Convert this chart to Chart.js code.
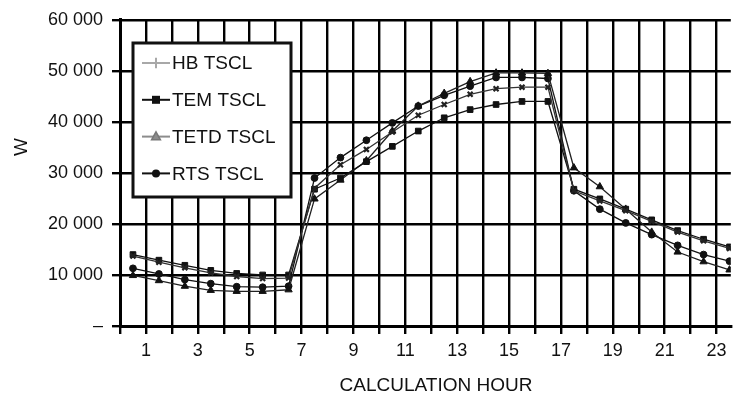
<!DOCTYPE html>
<html>
<head>
<meta charset="utf-8">
<script src="https://cdn.jsdelivr.net/npm/chart.js@4/dist/chart.umd.min.js"></script>
<style>
  html, body { margin: 0; padding: 0; background: #fff; }
  #wrap { width: 737px; height: 396px; }
</style>
</head>
<body>
<div id="wrap"><canvas id="myChart" width="737" height="396"></canvas></div>
<script>
// calculation hours 1..24
var hours = [1, 2, 3, 4, 5, 6, 7, 8, 9, 10, 11, 12, 13, 14, 15, 16, 17, 18, 19, 20, 21, 22, 23, 24];
var seriesNames = ['HB TSCL', 'TEM TSCL', 'TETD TSCL', 'RTS TSCL'];

var hbTscl   = [13700, 12500, 11400, 10400, 9700, 9300, 9400, 27000, 31600, 34600, 38000, 41300, 43400, 45400, 46500, 46800, 46800, 26500, 24500, 22600, 20500, 18400, 16700, 15200];
var temTscl  = [14000, 12900, 11900, 10900, 10300, 10000, 10000, 26800, 29000, 32200, 35200, 38200, 40800, 42400, 43400, 44000, 44000, 26800, 24900, 22900, 20800, 18700, 17000, 15500];
var tetdTscl = [9900, 8900, 7800, 7000, 6800, 6800, 7100, 24900, 28600, 32400, 38200, 43100, 45600, 47900, 49600, 49600, 49500, 31000, 27300, 22900, 18400, 14500, 12600, 11000];
var rtsTscl  = [11300, 10200, 9100, 8300, 7700, 7600, 7800, 29000, 33000, 36400, 39800, 43100, 45200, 47000, 48700, 48700, 48500, 26500, 22900, 20200, 17900, 15800, 14000, 12700];

var yTicks = [0, 10000, 20000, 30000, 40000, 50000, 60000];
var xLabels = [1, 3, 5, 7, 9, 11, 13, 15, 17, 19, 21, 23];

var FONT = '"Liberation Sans", Arial, sans-serif';
Chart.defaults.font.family = FONT;
Chart.defaults.font.size = 18;
Chart.defaults.color = '#111';

// each hour's value is plotted in the middle of its hour interval
function pairs(vals) {
    return vals.map(function (v, i) { return { x: hours[i] - 0.5, y: v }; });
}

function fmt(v) {
    if (v === 0) return '\u2013';
    return String(v).replace(/\B(?=(\d{3})+(?!\d))/g, ' ');
}

var legendStyles = [
    { line: '#a8a8a8', style: 'cross', fill: '#a8a8a8', stroke: '#a8a8a8' },
    { line: '#111', style: 'rect', fill: '#111', stroke: '#111' },
    { line: '#8c8c8c', style: 'triangle', fill: '#8c8c8c', stroke: '#777' },
    { line: '#111', style: 'circle', fill: '#111', stroke: '#111' }
];

function marker(ctx, style, x, y, r, fill, stroke) {
    ctx.save();
    ctx.fillStyle = fill;
    ctx.strokeStyle = stroke;
    ctx.lineWidth = 1.5;
    ctx.beginPath();
    if (style === 'rect') {
        ctx.rect(x - r, y - r, 2 * r, 2 * r);
        ctx.fill();
    } else if (style === 'circle') {
        ctx.arc(x, y, r, 0, Math.PI * 2);
        ctx.fill();
    } else if (style === 'triangle') {
        ctx.moveTo(x, y - r * 1.2);
        ctx.lineTo(x + r * 1.1, y + r * 0.8);
        ctx.lineTo(x - r * 1.1, y + r * 0.8);
        ctx.closePath();
        ctx.fill();
        ctx.stroke();
    } else {
        ctx.lineWidth = 2;
        ctx.moveTo(x - r * 1.3, y);
        ctx.lineTo(x + r * 1.3, y);
        ctx.moveTo(x, y - r * 1.3);
        ctx.lineTo(x, y + r * 1.3);
        ctx.stroke();
    }
    ctx.restore();
}

var boxLegend = {
    id: 'boxLegend',
    afterDatasetsDraw: function (chart) {
        var ctx = chart.ctx;
        ctx.save();
        ctx.fillStyle = '#fff';
        ctx.fillRect(133, 43, 158, 154);
        ctx.strokeStyle = '#111';
        ctx.lineWidth = 3;
        ctx.strokeRect(133, 43, 158, 154);
        ctx.font = '19px ' + FONT;
        ctx.textBaseline = 'middle';
        ctx.textAlign = 'left';
        chart.data.datasets.forEach(function (ds, i) {
            var s = legendStyles[i];
            var y = 63 + i * 36.8;
            ctx.strokeStyle = s.line;
            ctx.lineWidth = 2;
            ctx.beginPath();
            ctx.moveTo(142, y);
            ctx.lineTo(170, y);
            ctx.stroke();
            marker(ctx, s.style, 156, y, 4, s.fill, s.stroke);
            ctx.fillStyle = '#111';
            ctx.fillText(ds.label, 172, y + 1);
        });
        ctx.restore();
    }
};

var axisTitles = {
    id: 'axisTitles',
    afterDraw: function (chart) {
        var ctx = chart.ctx;
        ctx.save();
        ctx.fillStyle = '#111';
        ctx.font = '19px ' + FONT;
        ctx.textAlign = 'center';
        ctx.textBaseline = 'middle';
        ctx.fillText('CALCULATION HOUR', 436, 386);
        ctx.translate(22, 147);
        ctx.rotate(-Math.PI / 2);
        ctx.fillText('W', 0, 0);
        ctx.restore();
    }
};

var whiteBg = {
    id: 'whiteBg',
    beforeDraw: function (chart) {
        var ctx = chart.ctx;
        ctx.save();
        ctx.fillStyle = '#fff';
        ctx.fillRect(0, 0, chart.width, chart.height);
        ctx.restore();
    }
};

var ctx = document.getElementById('myChart');
var myChart = new Chart(ctx, {
    type: 'line',
    data: {
        datasets: [{
            label: seriesNames[0],
            data: pairs(hbTscl),
            borderColor: '#333',
            borderWidth: 1.3,
            pointStyle: 'crossRot',
            pointRadius: 3.5,
            pointBorderWidth: 2.2,
            pointBorderColor: '#222',
            pointBackgroundColor: '#222'
        }, {
            label: seriesNames[1],
            data: pairs(temTscl),
            borderColor: '#111',
            borderWidth: 1.3,
            pointStyle: 'rect',
            pointRadius: 4,
            pointBorderWidth: 1,
            pointBorderColor: '#111',
            pointBackgroundColor: '#111'
        }, {
            label: seriesNames[2],
            data: pairs(tetdTscl),
            borderColor: '#222',
            borderWidth: 1.3,
            pointStyle: 'triangle',
            pointRadius: 4.2,
            pointBorderWidth: 1,
            pointBorderColor: '#111',
            pointBackgroundColor: '#111'
        }, {
            label: seriesNames[3],
            data: pairs(rtsTscl),
            borderColor: '#111',
            borderWidth: 1.3,
            pointStyle: 'circle',
            pointRadius: 3.4,
            pointBorderWidth: 1,
            pointBorderColor: '#111',
            pointBackgroundColor: '#111'
        }]
    },
    options: {
        responsive: false,
        animation: false,
        events: [],
        layout: { padding: { top: 18, left: 0, right: 0, bottom: 0 } },
        plugins: {
            legend: { display: false },
            tooltip: { enabled: false }
        },
        scales: {
            x: {
                type: 'linear',
                min: 0,
                max: 23.55,
                afterFit: function (scale) { scale.height = 70; },
                afterBuildTicks: function (scale) {
                    var t = [];
                    for (var i = 0; i <= 23; i++) t.push({ value: i });
                    scale.ticks = t;
                },
                ticks: {
                    autoSkip: false,
                    maxRotation: 0,
                    padding: 6,
                    callback: function (v) { return xLabels.indexOf(v) >= 0 ? String(v) : ''; }
                },
                grid: { color: '#000', lineWidth: 2.4, tickLength: 8 },
                border: { color: '#000', width: 3 }
            },
            y: {
                min: 0,
                max: 60000,
                afterFit: function (scale) { scale.width = 120; },
                afterBuildTicks: function (scale) {
                    scale.ticks = yTicks.map(function (v) { return { value: v }; });
                },
                ticks: {
                    padding: 9,
                    callback: function (v) { return fmt(v); }
                },
                grid: { color: '#000', lineWidth: 2.4, tickLength: 8 },
                border: { color: '#000', width: 3 }
            }
        }
    },
    plugins: [whiteBg, boxLegend, axisTitles]
});
</script>
</body>
</html>
